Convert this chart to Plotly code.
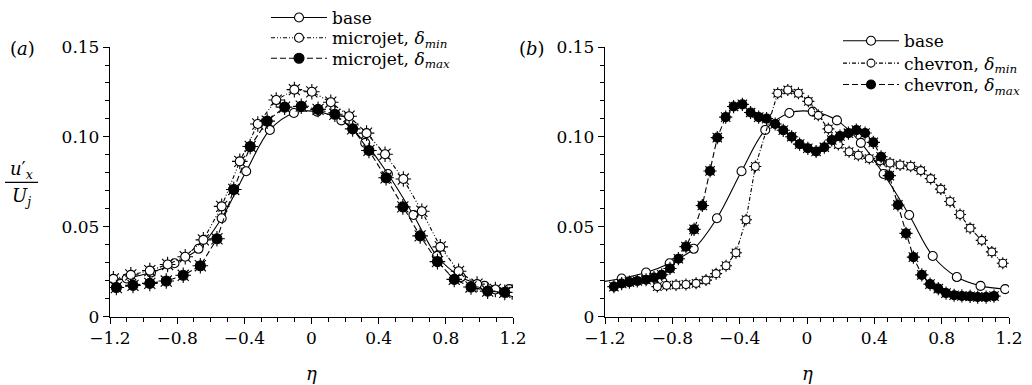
import plotly.graph_objects as go

# ---- data -------------------------------------------------------------
# baseline profile (shared by both panels)
eta_base = [-1.25, -1.101, -0.956, -0.816, -0.673, -0.535, -0.389, -0.248, -0.105,
            0.034, 0.178, 0.320, 0.455, 0.607, 0.747, 0.890, 1.031, 1.177]
u_base = [0.0190, 0.0213, 0.0246, 0.0298, 0.0378, 0.0548, 0.0809, 0.1039, 0.1133,
          0.1141, 0.1092, 0.0967, 0.0794, 0.0566, 0.0338, 0.0221, 0.0172, 0.0154]

# microjet, delta_min
eta_mj_min = [-1.180, -1.076, -0.963, -0.857, -0.752, -0.644, -0.535, -0.427, -0.320,
              -0.210, -0.102, 0.002, 0.115, 0.224, 0.328, 0.438, 0.547, 0.657, 0.767,
              0.876, 0.986, 1.095, 1.195]
u_mj_min = [0.0211, 0.0233, 0.0257, 0.0291, 0.0334, 0.0428, 0.0614, 0.0864, 0.1072,
            0.1205, 0.1263, 0.1251, 0.1193, 0.1115, 0.1021, 0.0904, 0.0766, 0.0587,
            0.0389, 0.0253, 0.0182, 0.0152, 0.0138]

# microjet, delta_max
eta_mj_max = [-1.162, -1.063, -0.963, -0.865, -0.764, -0.662, -0.563, -0.463, -0.365,
              -0.264, -0.160, -0.061, 0.039, 0.139, 0.245, 0.342, 0.444, 0.544, 0.647,
              0.750, 0.850, 0.950, 1.049, 1.151]
u_mj_max = [0.0163, 0.0175, 0.0186, 0.0199, 0.0231, 0.0284, 0.0434, 0.0708, 0.0947,
            0.1088, 0.1166, 0.1171, 0.1153, 0.1126, 0.1045, 0.0925, 0.0773, 0.0611,
            0.0450, 0.0307, 0.0208, 0.0166, 0.0143, 0.0136]

# chevron, delta_min
eta_ch_min = [-0.889, -0.834, -0.778, -0.719, -0.659, -0.600, -0.540, -0.481, -0.422,
              -0.362, -0.307, -0.174, -0.114, -0.051, 0.008, 0.067, 0.127, 0.186,
              0.250, 0.305, 0.370, 0.434, 0.493, 0.553, 0.616, 0.676, 0.735, 0.795,
              0.850, 0.909, 0.969, 1.038, 1.098, 1.163]
u_ch_min = [0.0168, 0.0175, 0.0177, 0.0180, 0.0186, 0.0204, 0.0240, 0.0284, 0.0356,
            0.0540, 0.0836, 0.1243, 0.1261, 0.1243, 0.1198, 0.1120, 0.1045, 0.0958,
            0.0918, 0.0898, 0.0880, 0.0867, 0.0855, 0.0844, 0.0837, 0.0813, 0.0768,
            0.0710, 0.0641, 0.0569, 0.0493, 0.0425, 0.0361, 0.0298]

# chevron, delta_max
eta_ch_max = [-1.147, -1.101, -1.055, -1.008, -0.956, -0.909, -0.863, -0.814, -0.764,
              -0.719, -0.671, -0.622, -0.576, -0.533, -0.483, -0.436, -0.384, -0.335,
              -0.287, -0.240, -0.189, -0.141, -0.091, -0.044, 0.005, 0.054, 0.103,
              0.147, 0.196, 0.246, 0.293, 0.345, 0.394, 0.440, 0.489, 0.540, 0.588,
              0.632, 0.682, 0.731, 0.780, 0.826, 0.874, 0.920, 0.969, 1.014, 1.064,
              1.111]
u_ch_max = [0.0168, 0.0185, 0.0193, 0.0199, 0.0206, 0.0218, 0.0234, 0.0269, 0.0323,
            0.0390, 0.0486, 0.0619, 0.0811, 0.0996, 0.1110, 0.1169, 0.1181, 0.1136,
            0.1110, 0.1102, 0.1072, 0.1037, 0.1001, 0.0960, 0.0937, 0.0919, 0.0943,
            0.0983, 0.1005, 0.1021, 0.1038, 0.1022, 0.0970, 0.0890, 0.0785, 0.0622,
            0.0464, 0.0332, 0.0233, 0.0182, 0.0157, 0.0132, 0.0120, 0.0116, 0.0114,
            0.0110, 0.0110, 0.0115]

x_tickvals = [-1.2, -0.8, -0.4, 0, 0.4, 0.8, 1.2]
x_ticktext = ["\u22121.2", "\u22120.8", "\u22120.4", "0", "0.4", "0.8", "1.2"]
y_tickvals = [0, 0.05, 0.10, 0.15]
y_ticktext = ["0", "0.05", "0.10", "0.15"]

FONT = "DejaVu Serif"
W, H = 1032, 385

fig = go.Figure()


def spikes(x, y, xa, ya, size):
    """Radial spikes drawn under a circular marker (sun-like symbol)."""
    fig.add_trace(go.Scatter(
        x=x, y=y, xaxis=xa, yaxis=ya, mode="markers", showlegend=False,
        hoverinfo="skip",
        marker=dict(symbol="asterisk-open", size=size, color="black",
                    line=dict(color="black", width=1.1))))


def series(x, y, xa, ya, name, legend, dash, fill, size, shape="linear"):
    fig.add_trace(go.Scatter(
        x=x, y=y, xaxis=xa, yaxis=ya, name=name, legend=legend,
        mode="lines+markers",
        line=dict(color="black", width=1.1, dash=dash, shape=shape),
        marker=dict(symbol="circle", size=size, color=fill,
                    line=dict(color="black", width=1.1))))


# ---- panel (a): microjets ---------------------------------------------
series(eta_base, u_base, "x", "y", "base", "legend", "solid", "white", 9,
       shape="spline")
spikes(eta_mj_min, u_mj_min, "x", "y", 13)
series(eta_mj_min, u_mj_min, "x", "y", "microjet, <i>\u03b4</i><sub><i>min</i></sub>",
       "legend2", "4px,2px,1px,2px,1px,2px", "white", 9)
spikes(eta_mj_max, u_mj_max, "x", "y", 13)
series(eta_mj_max, u_mj_max, "x", "y", "microjet, <i>\u03b4</i><sub><i>max</i></sub>",
       "legend3", "6px,3px", "black", 10)

# ---- panel (b): chevrons ----------------------------------------------
series(eta_base, u_base, "x2", "y2", "base", "legend4", "solid", "white", 9,
       shape="spline")
spikes(eta_ch_min, u_ch_min, "x2", "y2", 10)
series(eta_ch_min, u_ch_min, "x2", "y2", "chevron, <i>\u03b4</i><sub><i>min</i></sub>",
       "legend5", "4px,2px,1px,2px", "white", 8)
spikes(eta_ch_max, u_ch_max, "x2", "y2", 11)
series(eta_ch_max, u_ch_max, "x2", "y2", "chevron, <i>\u03b4</i><sub><i>max</i></sub>",
       "legend6", "6px,3px", "black", 9)


def px_x(p):
    return p / W


def px_y(p):
    return (H - p) / H


xaxis_common = dict(
    range=[-1.2, 1.2], tickmode="array", tickvals=x_tickvals, ticktext=x_ticktext,
    showline=True, linecolor="black", linewidth=1.3, showgrid=False, zeroline=False,
    ticks="outside", ticklen=6, tickwidth=1.2, tickcolor="black",
    tickfont=dict(family=FONT, size=17, color="black"), automargin=False,
)
yaxis_common = dict(
    range=[0, 0.15], tickmode="array", tickvals=y_tickvals, ticktext=y_ticktext,
    showline=True, linecolor="black", linewidth=1.3, showgrid=False, zeroline=False,
    ticks="outside", ticklen=6, tickwidth=1.2, tickcolor="black",
    tickfont=dict(family=FONT, size=17, color="black"), automargin=False,
    minor=dict(tick0=0, dtick=0.01, ticks="outside", ticklen=4, tickwidth=1,
               tickcolor="black", showgrid=False),
)


def legend_at(left_px, mid_px):
    # one legend box per entry, so every row sits at its own height
    return dict(
        x=px_x(left_px), y=px_y(mid_px), xanchor="left", yanchor="middle",
        font=dict(family=FONT, size=17, color="black"), bgcolor="rgba(0,0,0,0)",
        borderwidth=0, itemsizing="trace", itemwidth=56,
    )


fig.update_layout(
    width=W, height=H, margin=dict(l=0, r=0, t=0, b=0),
    paper_bgcolor="white", plot_bgcolor="white",
    font=dict(family=FONT, size=17, color="black"),
    xaxis=dict(domain=[px_x(110), px_x(513)], anchor="y",
               minor=dict(tick0=0, dtick=0.1, ticks="outside", ticklen=4,
                          tickwidth=1, tickcolor="black", showgrid=False),
               **xaxis_common),
    yaxis=dict(domain=[px_y(315), px_y(38)], anchor="x", **yaxis_common),
    xaxis2=dict(domain=[px_x(605), px_x(1009)], anchor="y2",
                minor=dict(tick0=0, dtick=0.08, ticks="outside", ticklen=4,
                           tickwidth=1, tickcolor="black", showgrid=False),
                **xaxis_common),
    yaxis2=dict(domain=[px_y(315), px_y(38)], anchor="x2", **yaxis_common),
    legend=legend_at(266, 8),
    legend2=legend_at(266, 29),
    legend3=legend_at(266, 50),
    legend4=legend_at(838, 32),
    legend5=legend_at(838, 55),
    legend6=legend_at(838, 77),
    showlegend=True,
)

# panel tags, axis titles and the u'_x / U_j fraction
ann = [
    dict(text="(<i>a</i>)", x=px_x(22), y=px_y(40)),
    dict(text="(<i>b</i>)", x=px_x(532), y=px_y(40)),
    dict(text="<i>\u03b7</i>", x=px_x(311), y=px_y(373)),
    dict(text="<i>\u03b7</i>", x=px_x(807), y=px_y(373)),
    dict(text="<i>u</i>\u2032<sub><i>x</i></sub>", x=px_x(21), y=px_y(164)),
    dict(text="<i>U</i><sub><i>j</i></sub>", x=px_x(21), y=px_y(192)),
]
for a in ann:
    fig.add_annotation(xref="paper", yref="paper", showarrow=False,
                       xanchor="center", yanchor="middle",
                       font=dict(family=FONT, size=18, color="black"), **a)

fig.add_shape(type="line", xref="paper", yref="paper",
              x0=px_x(5), x1=px_x(38), y0=px_y(177), y1=px_y(177),
              line=dict(color="black", width=1.2))

fig.write_html("out.html")
